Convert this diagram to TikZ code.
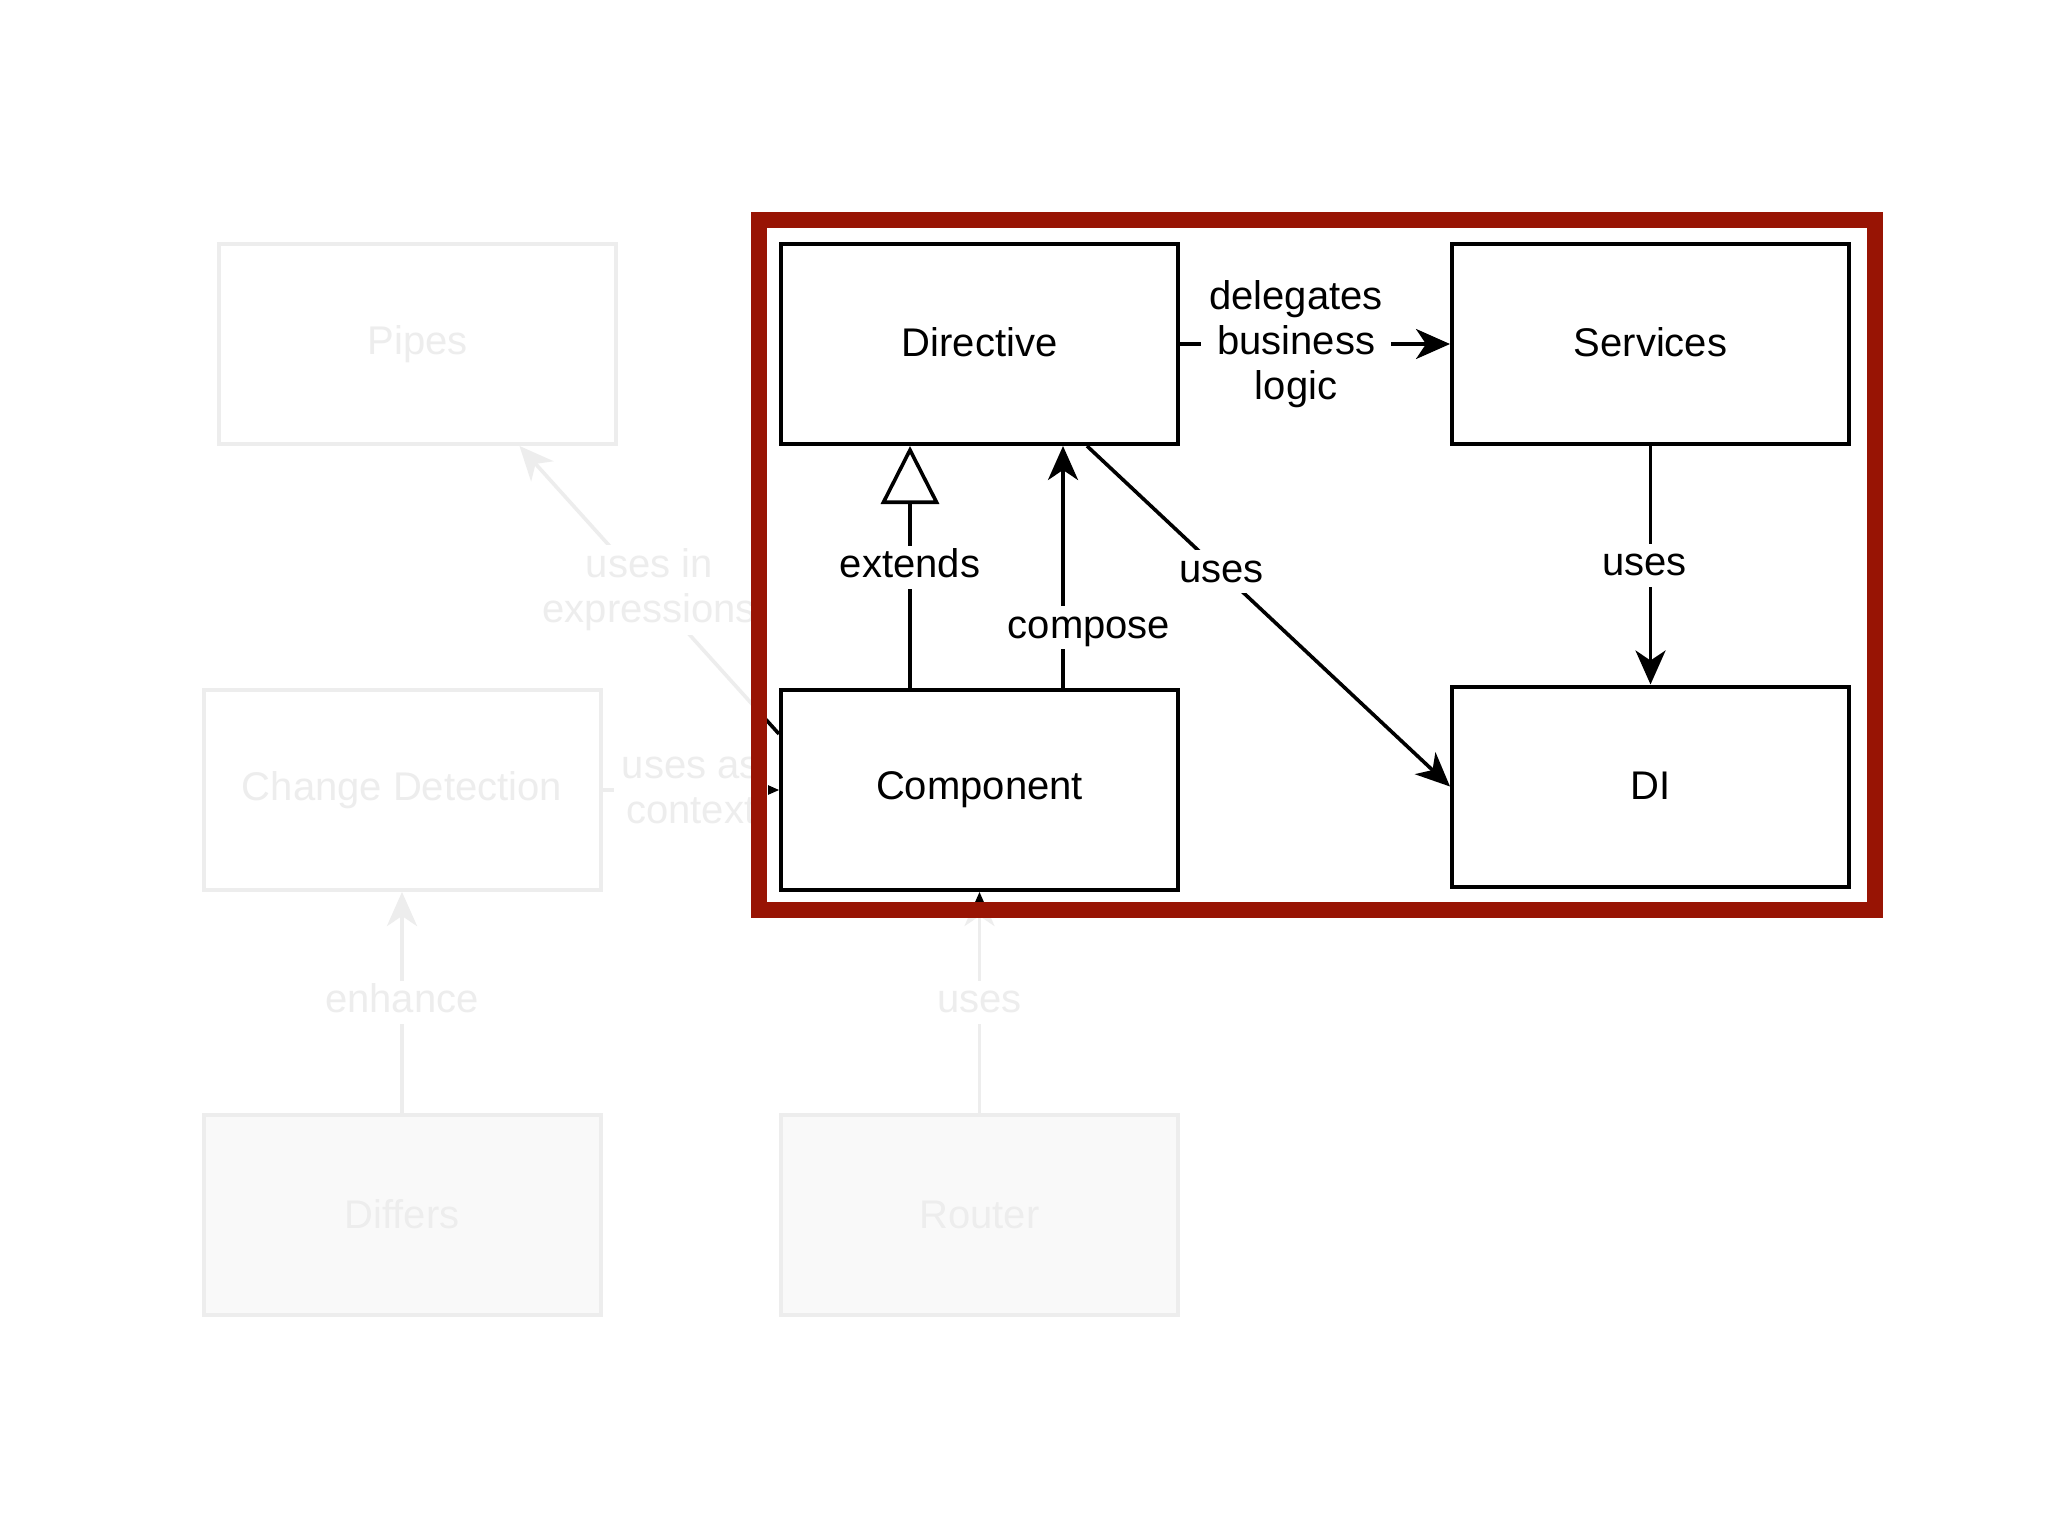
\documentclass[tikz,border=0pt]{standalone}
\usepackage{fontspec}
\setmainfont{Liberation Sans}
\usetikzlibrary{arrows.meta,calc}
\definecolor{framered}{RGB}{152,20,4}
\begin{document}
\begin{tikzpicture}[x=0.5pt,y=-0.5pt,
  box/.style={draw=black, line width=2pt, minimum width=198.5pt, minimum height=100pt,
              inner sep=0pt, fill=white, font=\fontsize{20}{24}\selectfont},
  greybox/.style={box, fill=black!30},
  conn/.style={line width=1.8pt, draw=black},
  arr/.style={conn, -{Stealth[length=17pt,width=15pt,inset=5pt]}},
  lbl/.style={fill=white, inner xsep=4pt, inner ysep=1.5pt, text height=14.5pt, text depth=4pt,
              font=\fontsize{20}{24}\selectfont},
  lblm/.style={fill=white, inner xsep=4pt, inner ysep=2pt, align=center,
              font=\fontsize{20}{22.5}\selectfont}
]
\useasboundingbox (0,0) rectangle (2048,1536);
\fill[white] (0,0) rectangle (2048,1536);

% boxes
\node[box] (dir)    at (979.5,344)   {\raisebox{2pt}{Directive}};
\node[box] (serv)   at (1650.5,344)  {\raisebox{2pt}{Services}};
\node[box] (comp)   at (979.5,790)   {Component};
\node[box] (di)     at (1650.5,786.5){\raisebox{1pt}{DI}};
\node[box] (pipes)  at (417.5,344)   {Pipes};
\node[box] (cd)     at (402,790)     {Change Detection};
\node[greybox] (diff)   at (402,1214.5)  {Differs};
\node[greybox] (router) at (979.5,1214.5){Router};

% connectors (highlighted part)
\draw[arr] (dir.east) -- node[lblm, pos=0.43] {delegates\\business\\logic} (serv.west);
\draw[conn, -{Triangle[length=29pt,width=29pt,fill=white]}]
  ([xshift=-34.75pt]comp.north) -- node[lbl] {extends} ([xshift=-34.75pt]dir.south);
\draw[arr] ([xshift=41.75pt]comp.north) -- node[lbl, pos=0.25, xshift=13pt] {compose} ([xshift=41.75pt]dir.south);
\draw[arr] ([xshift=53.75pt]dir.south) -- node[lbl, pos=0.37] {uses} (di.west);
\draw[arr] (serv.south) -- node[lbl, xshift=-3pt] {uses} (di.north);

% connectors (faded part)
\draw[arr] ([yshift=28pt]comp.west) -- node[lblm] {uses in\\expressions} ([xshift=51pt]pipes.south);
\draw[arr] (cd.east) -- node[lblm] {uses as\\context} (comp.west);
\draw[arr] (diff.north) -- node[lbl] {enhance} (cd.south);
\draw[arr] (router.north) -- node[lbl] {uses} (comp.south);

% fade everything outside the highlight frame
\fill[white, opacity=0.93, even odd rule] (0,0) rectangle (2048,1536) (751,212) rectangle (1883,918);

% highlight frame
\draw[framered, line width=8pt] (759,220) rectangle (1875,910);
\end{tikzpicture}
\end{document}
